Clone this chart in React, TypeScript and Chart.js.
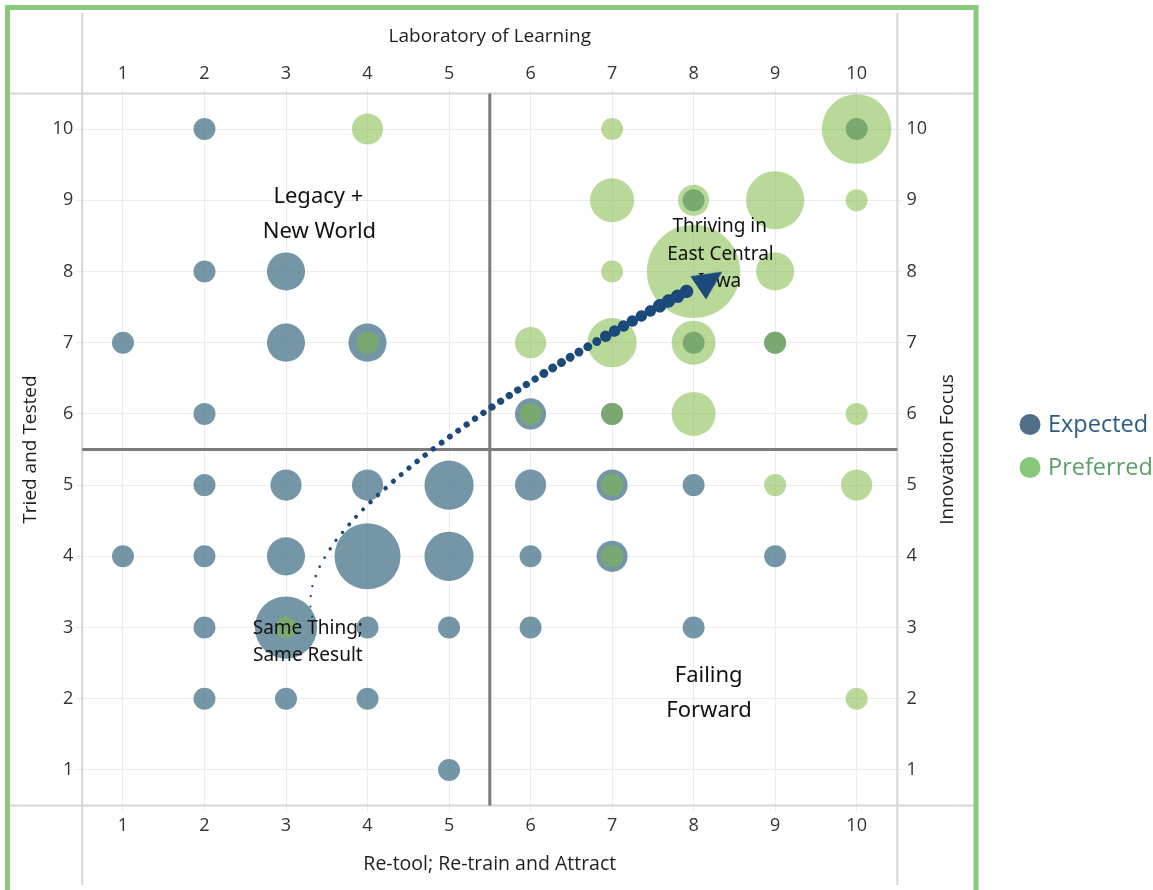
import React, { useEffect, useRef } from 'react';
import { Chart, registerables } from 'chart.js';

Chart.register(...registerables);

// ---------- data ----------
const TICKS = [1, 2, 3, 4, 5, 6, 7, 8, 9, 10];
const AXIS_MIN = 0.5;
const AXIS_MAX = 10.5;
const QUADRANT_SPLIT_X = 5.5;
const QUADRANT_SPLIT_Y = 5.5;

const SERIES_NAMES = ['Expected', 'Preferred'];

const EXPECTED_X = [2, 2, 3, 1, 3, 4, 2, 6, 2, 3, 4, 5, 6, 7, 8, 1, 2, 3, 4, 5, 6, 7, 9, 2, 3, 4, 5, 6, 8, 2, 3, 4, 5, 10, 8, 8, 9, 7];
const EXPECTED_Y = [10, 8, 8, 7, 7, 7, 6, 6, 5, 5, 5, 5, 5, 5, 5, 4, 4, 4, 4, 4, 4, 4, 4, 3, 3, 3, 3, 3, 3, 2, 2, 2, 1, 10, 9, 7, 7, 6];
const EXPECTED_COUNT = [1, 1, 3, 1, 3, 3, 1, 2, 1, 2, 2, 5, 2, 2, 1, 1, 1, 3, 9, 5, 1, 2, 1, 1, 8, 1, 1, 1, 1, 1, 1, 1, 1, 1, 1, 1, 1, 1];

const PREFERRED_X = [4, 7, 10, 7, 8, 9, 10, 7, 8, 9, 4, 6, 7, 8, 9, 6, 7, 8, 10, 7, 9, 10, 7, 3, 10];
const PREFERRED_Y = [10, 10, 10, 9, 9, 9, 9, 8, 8, 8, 7, 7, 7, 7, 7, 6, 6, 6, 6, 5, 5, 5, 4, 3, 2];
const PREFERRED_COUNT = [2, 1, 10, 4, 2, 7, 1, 1, 18, 3, 1, 2, 5, 4, 1, 1, 1, 4, 1, 1, 1, 2, 1, 1, 1];

// path of the "journey" arrow (anchor points)
const PATH_X = [3.321, 3.299, 3.358, 3.53, 3.759, 4.02, 4.298, 4.589, 4.891, 5.2, 5.521, 6.158, 6.816, 7.49, 7.944];
const PATH_Y = [3.152, 3.387, 3.705, 4.085, 4.426, 4.744, 5.034, 5.315, 5.581, 5.837, 6.092, 6.564, 7.019, 7.459, 7.739];
const ARROW_HEAD_X = [8.204];
const ARROW_HEAD_Y = [7.883];

// quadrant notes
const NOTE_TEXTS = ['Legacy +', 'New World', 'Thriving in', 'East Central', 'Iowa', 'Same Thing;', 'Same Result', 'Failing', 'Forward'];
const NOTE_X = [3.397, 3.41, 8.32, 8.33, 8.32, 3.268, 3.268, 8.185, 8.19];
const NOTE_Y = [9.045, 8.554, 8.624, 8.231, 7.852, 2.98, 2.6, 2.32, 1.828];

const TITLE_TOP = 'Laboratory of Learning';
const TITLE_BOTTOM = 'Re-tool; Re-train and Attract';
const TITLE_LEFT = 'Tried and Tested';
const TITLE_RIGHT = 'Innovation Focus';

// ---------- styles ----------
const FONT_UI = "'Open Sans', 'Noto Sans', sans-serif";
const FONT_NOTE = "'Noto Sans', 'Open Sans', sans-serif";
const NOTE_SIZES = [22, 22, 19, 19, 19, 19, 19, 22, 22];
const DOT_WIDTHS = [2, 2.3, 2.7, 3.3, 4, 4.6, 5.1, 5.5, 5.9, 6.3, 7.2, 9, 11.5, 13.5, 14.5];
const DOT_GAP = 10.3;
const EXPECTED_FILL = 'rgba(78,121,142,0.78)';
const PREFERRED_FILL = 'rgba(126,186,68,0.55)';
const LEGEND_DOT = ['#4f6f89', '#86c97a'];
const LEGEND_TEXT = ['#2c5c85', '#5a9f66'];
const ARROW_COLOR = '#1b4a7a';
const GRID_COLOR = '#ececec';
const FRAME_GRAY = '#d6d6d6';
const FRAME_GREEN = '#88c97c';
const QUAD_COLOR = '#7b7b7b';
const HEAD_ROTATION = 56;

const bubbleRadius = (count: number) => 11 * Math.sqrt(count);

function makeArrowHead(): HTMLCanvasElement {
  const c = document.createElement('canvas');
  c.width = 28;
  c.height = 29;
  const g = c.getContext('2d')!;
  g.fillStyle = ARROW_COLOR;
  g.beginPath();
  g.moveTo(14, 0);
  g.lineTo(28, 29);
  g.lineTo(0, 29);
  g.closePath();
  g.fill();
  return c;
}

const decorPlugin = {
  id: 'decor',
  beforeDatasetsDraw(chart: any) {
    const { ctx, chartArea: a, scales } = chart;
    ctx.save();
    ctx.strokeStyle = FRAME_GRAY;
    ctx.lineWidth = 2;
    ctx.beginPath();
    ctx.moveTo(10, a.top); ctx.lineTo(974, a.top);
    ctx.moveTo(10, a.bottom); ctx.lineTo(974, a.bottom);
    ctx.moveTo(a.left, 13); ctx.lineTo(a.left, 885);
    ctx.moveTo(a.right, 13); ctx.lineTo(a.right, 885);
    ctx.stroke();
    const qx = scales.x.getPixelForValue(QUADRANT_SPLIT_X);
    const qy = scales.y.getPixelForValue(QUADRANT_SPLIT_Y);
    ctx.strokeStyle = QUAD_COLOR;
    ctx.lineWidth = 3;
    ctx.beginPath();
    ctx.moveTo(qx, a.top); ctx.lineTo(qx, a.bottom);
    ctx.moveTo(a.left, qy); ctx.lineTo(a.right, qy);
    ctx.stroke();
    ctx.restore();
  },
  beforeDatasetDraw(chart: any, args: any) {
    if (args.meta.type !== 'line') return;
    const { ctx, scales } = chart;
    ctx.save();
    ctx.fillStyle = '#111';
    ctx.textAlign = 'center';
    ctx.textBaseline = 'middle';
    NOTE_TEXTS.forEach((t, i) => {
      ctx.font = `${NOTE_SIZES[i]}px ${FONT_NOTE}`;
      ctx.fillText(t, scales.x.getPixelForValue(NOTE_X[i]), scales.y.getPixelForValue(NOTE_Y[i]));
    });
    ctx.restore();
  },
  afterDraw(chart: any) {
    const { ctx, chartArea: a } = chart;
    const cx = (a.left + a.right) / 2;
    const cy = (a.top + a.bottom) / 2;
    ctx.save();
    ctx.fillStyle = '#1f1f1f';
    ctx.textAlign = 'center';
    ctx.textBaseline = 'middle';
    ctx.font = `19px ${FONT_UI}`;
    ctx.fillText(TITLE_TOP, cx, 37);
    ctx.font = `19.5px ${FONT_UI}`;
    ctx.fillText(TITLE_BOTTOM, cx, 864);
    ctx.font = `19px ${FONT_UI}`;
    ctx.save();
    ctx.translate(31, cy);
    ctx.rotate(-Math.PI / 2);
    ctx.fillText(TITLE_LEFT, 0, 0);
    ctx.restore();
    ctx.save();
    ctx.translate(948, cy);
    ctx.rotate(-Math.PI / 2);
    ctx.fillText(TITLE_RIGHT, 0, 0);
    ctx.restore();

    // legend
    const ly = [424.5, 467.5];
    SERIES_NAMES.forEach((name, i) => {
      ctx.fillStyle = LEGEND_DOT[i];
      ctx.beginPath();
      ctx.arc(1030, ly[i], 10.5, 0, Math.PI * 2);
      ctx.fill();
      ctx.fillStyle = LEGEND_TEXT[i];
      ctx.font = `23.5px ${FONT_UI}`;
      ctx.textAlign = 'left';
      ctx.textBaseline = 'middle';
      ctx.fillText(name, 1048, ly[i] + 1);
    });

    // green frame
    ctx.strokeStyle = FRAME_GREEN;
    ctx.lineWidth = 5;
    ctx.strokeRect(7.5, 7.5, 968.5, 900);
    ctx.restore();
  },
};

function axis(position: string, onChart: boolean, fit: (s: any) => void) {
  return {
    type: 'linear',
    position,
    min: AXIS_MIN,
    max: AXIS_MAX,
    afterBuildTicks: (s: any) => {
      s.ticks = TICKS.map((v) => ({ value: v }));
    },
    ticks: {
      font: { family: FONT_UI, size: 18 },
      color: '#333',
      padding: 3,
      maxRotation: 0,
      autoSkip: false,
      callback: (v: any) => String(v),
    },
    grid: {
      color: GRID_COLOR,
      lineWidth: 1,
      drawOnChartArea: onChart,
      drawTicks: true,
      tickLength: 6,
      tickColor: GRID_COLOR,
    },
    border: { display: false },
    title: { display: false },
    afterFit: fit,
  };
}

export default function App() {
  const ref = useRef<HTMLCanvasElement | null>(null);

  useEffect(() => {
    document.body.style.margin = '0';
    if (!ref.current) return;

    const expected = EXPECTED_X.map((x, i) => ({ x, y: EXPECTED_Y[i], r: bubbleRadius(EXPECTED_COUNT[i]) }));
    const preferred = PREFERRED_X.map((x, i) => ({ x, y: PREFERRED_Y[i], r: bubbleRadius(PREFERRED_COUNT[i]) }));
    const path = PATH_X.map((x, i) => ({ x, y: PATH_Y[i] }));
    const head = ARROW_HEAD_X.map((x, i) => ({ x, y: ARROW_HEAD_Y[i] }));

    const dashOffset = (ctx: any) => {
      const pts = ctx.chart.getDatasetMeta(ctx.datasetIndex).data;
      let len = 0;
      for (let i = 1; i <= ctx.p0DataIndex; i++) {
        len += Math.hypot(pts[i].x - pts[i - 1].x, pts[i].y - pts[i - 1].y);
      }
      return len % DOT_GAP;
    };

    const chart = new Chart(ref.current, {
      type: 'bubble',
      data: {
        datasets: [
          {
            type: 'bubble',
            label: SERIES_NAMES[0],
            data: expected,
            backgroundColor: EXPECTED_FILL,
            borderWidth: 0,
            order: 3,
            xAxisID: 'x',
            yAxisID: 'y',
          },
          {
            type: 'bubble',
            label: SERIES_NAMES[1],
            data: preferred,
            backgroundColor: PREFERRED_FILL,
            borderWidth: 0,
            order: 2,
            xAxisID: 'x',
            yAxisID: 'y',
          },
          {
            type: 'line',
            label: 'path',
            data: path,
            borderColor: ARROW_COLOR,
            borderWidth: 3,
            borderDash: [0.01, DOT_GAP],
            borderCapStyle: 'round',
            tension: 0.4,
            pointRadius: 0,
            fill: false,
            order: 1,
            xAxisID: 'x',
            yAxisID: 'y',
            segment: {
              borderWidth: (ctx: any) => DOT_WIDTHS[ctx.p0DataIndex],
              borderDashOffset: dashOffset,
            },
          },
          {
            type: 'scatter',
            label: 'head',
            data: head,
            pointStyle: makeArrowHead(),
            pointRadius: 15,
            pointRotation: HEAD_ROTATION,
            backgroundColor: ARROW_COLOR,
            borderWidth: 0,
            order: 0,
            xAxisID: 'x',
            yAxisID: 'y',
          },
        ] as any,
      },
      options: {
        responsive: true,
        maintainAspectRatio: false,
        animation: false,
        layout: { padding: 0 },
        plugins: {
          legend: { display: false },
          tooltip: { enabled: false },
        },
        events: [],
        scales: {
          x: axis('bottom', true, (s) => { s.height = 84.4; }),
          x2: axis('top', false, (s) => { s.height = 93.4; }),
          y: axis('left', true, (s) => { s.width = 82.2; }),
          y2: axis('right', false, (s) => { s.width = 255.6; }),
        } as any,
      },
      plugins: [decorPlugin],
    });

    return () => chart.destroy();
  }, []);

  return (
    <div style={{ position: 'absolute', left: 0, top: 0, width: 1153, height: 890, background: '#fff' }}>
      <canvas ref={ref} />
    </div>
  );
}
